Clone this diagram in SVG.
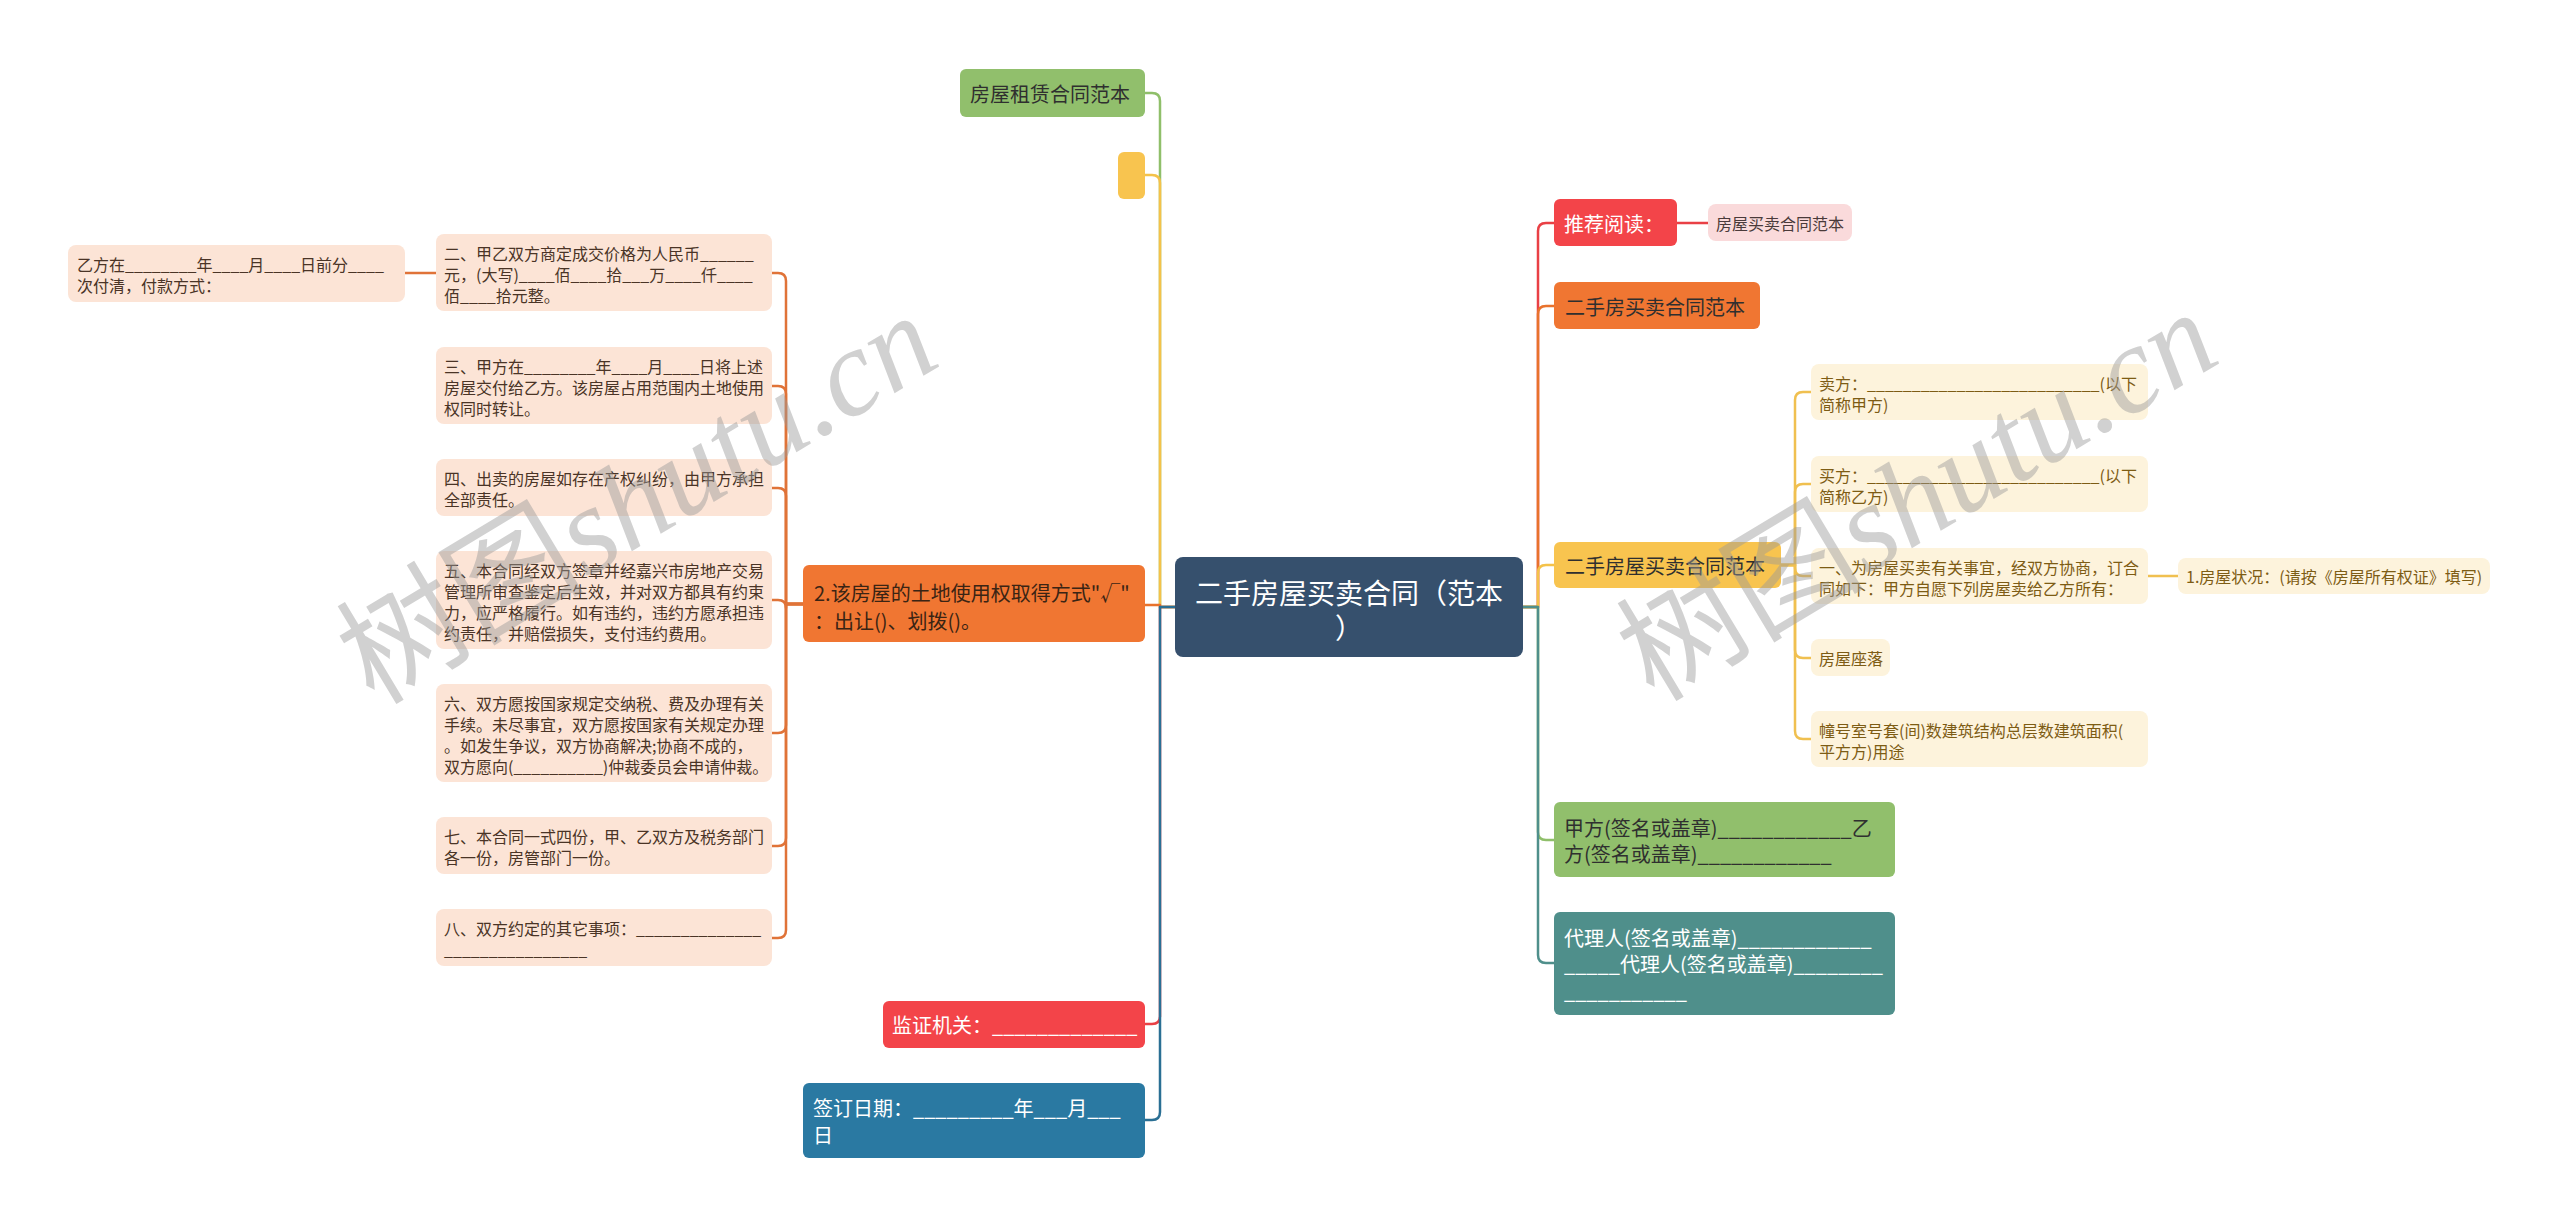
<svg xmlns="http://www.w3.org/2000/svg" width="2560" height="1228" viewBox="0 0 2560 1228">
<style>
text{font-family:"Noto Sans CJK SC","Noto Sans",sans-serif;dominant-baseline:central}
.t16{font-size:16px}
.t20{font-size:20px}
.dark{fill:#2f2f2f}
.white{fill:#ffffff}
.brown{fill:#4a3426}
.olive{fill:#7d5c14}
.peach{fill:#fce4d6}
.lyel{fill:#fdf3dc}
.c{fill:none;stroke-width:2.5;stroke-linecap:round;stroke-linejoin:round}
.wm{font-size:124px;fill:#9a9a9a;opacity:0.45;dominant-baseline:auto}
</style>
<rect width="2560" height="1228" fill="#ffffff"/>

<g id="connectors">
  <path class="c" stroke="#8fbf6a" d="M1176 607 H1160 V101 Q1160 93 1152 93 H1145"/>
  <path class="c" stroke="#f4c24a" d="M1176 607 H1160 V183 Q1160 175 1152 175 H1145"/>
  <path class="c" stroke="#e8722c" d="M1160 605 H1145"/>
  <path class="c" stroke="#e94045" d="M1176 607 H1160 V1016 Q1160 1024 1152 1024 H1145"/>
  <path class="c" stroke="#2a6f94" d="M1176 607 H1160 V1112 Q1160 1120 1152 1120 H1145"/>
  <path class="c" stroke="#e94045" d="M1523 607 H1538 V231 Q1538 223 1546 223 H1554"/>
  <path class="c" stroke="#e8722c" d="M1523 607 H1538 V314 Q1538 306 1546 306 H1554"/>
  <path class="c" stroke="#f4c24a" d="M1523 607 H1538 V573 Q1538 565 1546 565 H1554"/>
  <path class="c" stroke="#8fbf6a" d="M1523 607 H1538 V832 Q1538 840 1546 840 H1554"/>
  <path class="c" stroke="#4f8f8b" d="M1523 607 H1538 V955 Q1538 963 1546 963 H1554"/>
  <path class="c" stroke="#e94045" d="M1677 223 H1708"/>
  <path class="c" stroke="#e07338" d="M803 604 H786 V281 Q786 273 778 273 H772"/>
  <path class="c" stroke="#e07338" d="M803 604 H786 V394 Q786 386 778 386 H772"/>
  <path class="c" stroke="#e07338" d="M803 604 H786 V496 Q786 488 778 488 H772"/>
  <path class="c" stroke="#e07338" d="M803 604 H786 V608 Q786 600 778 600 H772"/>
  <path class="c" stroke="#e07338" d="M803 604 H786 V725 Q786 733 778 733 H772"/>
  <path class="c" stroke="#e07338" d="M803 604 H786 V838 Q786 846 778 846 H772"/>
  <path class="c" stroke="#e07338" d="M803 604 H786 V930 Q786 938 778 938 H772"/>
  <path class="c" stroke="#e07338" d="M436 273 H405"/>
  <path class="c" stroke="#f0c050" d="M1781 565 H1795 V400 Q1795 392 1803 392 H1811"/>
  <path class="c" stroke="#f0c050" d="M1781 565 H1795 V492 Q1795 484 1803 484 H1811"/>
  <path class="c" stroke="#f0c050" d="M1781 565 H1795 V568 Q1795 576 1803 576 H1811"/>
  <path class="c" stroke="#f0c050" d="M1781 565 H1795 V650 Q1795 658 1803 658 H1811"/>
  <path class="c" stroke="#f0c050" d="M1781 565 H1795 V731 Q1795 739 1803 739 H1811"/>
  <path class="c" stroke="#f0c050" d="M2148 576 H2178"/>
</g>

<g id="root">
  <rect x="1175" y="557" width="348" height="100" rx="8" fill="#36506d"/>
  <text x="1349" y="592" class="white" font-size="28" text-anchor="middle">二手房屋买卖合同（范本</text>
  <text x="1349" y="627" class="white" font-size="28" text-anchor="middle">）</text>
</g>

<g id="n-zulin">
  <rect x="960" y="69" width="185" height="48" rx="6" fill="#91bf6c"/>
  <text x="970" y="93" class="t20 dark">房屋租赁合同范本</text>
</g>
<g id="n-empty">
  <rect x="1118" y="152" width="27" height="47" rx="6" fill="#f8c44f"/>
</g>
<g id="n-tudi">
  <rect x="803" y="565" width="342" height="77" rx="6" fill="#f07632"/>
  <text x="814" y="592" class="t20" fill="#3a2414">2.该房屋的土地使用权取得方式"√"</text>
  <text x="814" y="620" class="t20" fill="#3a2414">：出让()、划拨()。</text>
</g>
<g id="n-jianzheng">
  <rect x="883" y="1001" width="262" height="47" rx="6" fill="#f34449"/>
  <text x="892" y="1024" class="t20 white">监证机关：_____________</text>
</g>
<g id="n-riqi">
  <rect x="803" y="1083" width="342" height="75" rx="6" fill="#2a79a2"/>
  <text x="813" y="1107" class="t20 white">签订日期：_________年___月___</text>
  <text x="813" y="1134" class="t20 white">日</text>
</g>

<g id="n-yifang">
  <rect x="68" y="245" width="337" height="57" rx="8" class="peach"/>
  <text x="77" y="263.5" class="t16 brown">乙方在________年____月____日前分____</text>
  <text x="77" y="284.5" class="t16 brown">次付清，付款方式：</text>
</g>
<g id="n-er">
  <rect x="436" y="234" width="336" height="77" rx="8" class="peach"/>
  <text x="444" y="252.5" class="t16 brown">二、甲乙双方商定成交价格为人民币______</text>
  <text x="444" y="273.5" class="t16 brown">元，(大写)____佰____拾___万____仟____</text>
  <text x="444" y="294.5" class="t16 brown">佰____拾元整。</text>
</g>
<g id="n-san">
  <rect x="436" y="347" width="336" height="77" rx="8" class="peach"/>
  <text x="444" y="365.5" class="t16 brown">三、甲方在________年____月____日将上述</text>
  <text x="444" y="386.5" class="t16 brown">房屋交付给乙方。该房屋占用范围内土地使用</text>
  <text x="444" y="407.5" class="t16 brown">权同时转让。</text>
</g>
<g id="n-si">
  <rect x="436" y="459" width="336" height="57" rx="8" class="peach"/>
  <text x="444" y="477.5" class="t16 brown">四、出卖的房屋如存在产权纠纷，由甲方承担</text>
  <text x="444" y="498.5" class="t16 brown">全部责任。</text>
</g>
<g id="n-wu">
  <rect x="436" y="551" width="336" height="98" rx="8" class="peach"/>
  <text x="444" y="569.5" class="t16 brown">五、本合同经双方签章并经嘉兴市房地产交易</text>
  <text x="444" y="590.5" class="t16 brown">管理所审查鉴定后生效，并对双方都具有约束</text>
  <text x="444" y="611.5" class="t16 brown">力，应严格履行。如有违约，违约方愿承担违</text>
  <text x="444" y="632.5" class="t16 brown">约责任，并赔偿损失，支付违约费用。</text>
</g>
<g id="n-liu">
  <rect x="436" y="684" width="336" height="98" rx="8" class="peach"/>
  <text x="444" y="702.5" class="t16 brown">六、双方愿按国家规定交纳税、费及办理有关</text>
  <text x="444" y="723.5" class="t16 brown">手续。未尽事宜，双方愿按国家有关规定办理</text>
  <text x="444" y="744.5" class="t16 brown">。如发生争议，双方协商解决;协商不成的，</text>
  <text x="444" y="765.5" class="t16 brown">双方愿向(__________)仲裁委员会申请仲裁。</text>
</g>
<g id="n-qi">
  <rect x="436" y="817" width="336" height="57" rx="8" class="peach"/>
  <text x="444" y="835.5" class="t16 brown">七、本合同一式四份，甲、乙双方及税务部门</text>
  <text x="444" y="856.5" class="t16 brown">各一份，房管部门一份。</text>
</g>
<g id="n-ba">
  <rect x="436" y="909" width="336" height="57" rx="8" class="peach"/>
  <text x="444" y="927.5" class="t16 brown">八、双方约定的其它事项：______________</text>
  <text x="444" y="948.5" class="t16 brown">________________</text>
</g>

<g id="n-tuijian">
  <rect x="1554" y="199" width="123" height="47" rx="6" fill="#f34449"/>
  <text x="1564" y="223" class="t20 white">推荐阅读：</text>
</g>
<g id="n-maimai">
  <rect x="1708" y="204" width="144" height="37" rx="8" fill="#fadadb"/>
  <text x="1716" y="222.5" class="t16" fill="#4a3a3a">房屋买卖合同范本</text>
</g>
<g id="n-ershoufang">
  <rect x="1554" y="282" width="206" height="47" rx="6" fill="#f07632"/>
  <text x="1565" y="306" class="t20 dark">二手房买卖合同范本</text>
</g>
<g id="n-ershoufangwu">
  <rect x="1554" y="542" width="227" height="46" rx="6" fill="#f8c44f"/>
  <text x="1565" y="565" class="t20 dark">二手房屋买卖合同范本</text>
</g>
<g id="n-maifang">
  <rect x="1811" y="364" width="337" height="56" rx="8" class="lyel"/>
  <text x="1819" y="382.5" class="t16 olive">卖方：__________________________(以下</text>
  <text x="1819" y="403.5" class="t16 olive">简称甲方)</text>
</g>
<g id="n-maifang2">
  <rect x="1811" y="456" width="337" height="56" rx="8" class="lyel"/>
  <text x="1819" y="474.5" class="t16 olive">买方：__________________________(以下</text>
  <text x="1819" y="495.5" class="t16 olive">简称乙方)</text>
</g>
<g id="n-yi">
  <rect x="1811" y="548" width="337" height="56" rx="8" class="lyel"/>
  <text x="1819" y="566.5" class="t16 olive">一、为房屋买卖有关事宜，经双方协商，订合</text>
  <text x="1819" y="587.5" class="t16 olive">同如下：甲方自愿下列房屋卖给乙方所有：</text>
</g>
<g id="n-zhuangkuang">
  <rect x="2178" y="558" width="312" height="36" rx="8" class="lyel"/>
  <text x="2186" y="576" class="t16 olive">1.房屋状况：(请按《房屋所有权证》填写)</text>
</g>
<g id="n-zuoluo">
  <rect x="1811" y="639" width="79" height="37" rx="8" class="lyel"/>
  <text x="1819" y="657.5" class="t16 olive">房屋座落</text>
</g>
<g id="n-zhuang">
  <rect x="1811" y="711" width="337" height="56" rx="8" class="lyel"/>
  <text x="1819" y="729.5" class="t16 olive">幢号室号套(间)数建筑结构总层数建筑面积(</text>
  <text x="1819" y="750.5" class="t16 olive">平方方)用途</text>
</g>
<g id="n-jiafang">
  <rect x="1554" y="802" width="341" height="75" rx="6" fill="#91bf6c"/>
  <text x="1564" y="827" class="t20 dark">甲方(签名或盖章)____________乙</text>
  <text x="1564" y="853" class="t20 dark">方(签名或盖章)____________</text>
</g>
<g id="n-dailiren">
  <rect x="1554" y="912" width="341" height="103" rx="6" fill="#4f8f8b"/>
  <text x="1564" y="937" class="t20 white">代理人(签名或盖章)____________</text>
  <text x="1564" y="963" class="t20 white">_____代理人(签名或盖章)________</text>
  <text x="1564" y="990" class="t20 white">___________</text>
</g>

<g id="watermark">
  <text class="wm" transform="translate(374,706) rotate(-31)">树图<tspan font-family="Liberation Serif" font-style="italic">shutu.cn</tspan></text>
  <text class="wm" transform="translate(1654,703) rotate(-31)">树图<tspan font-family="Liberation Serif" font-style="italic">shutu.cn</tspan></text>
</g>
</svg>
